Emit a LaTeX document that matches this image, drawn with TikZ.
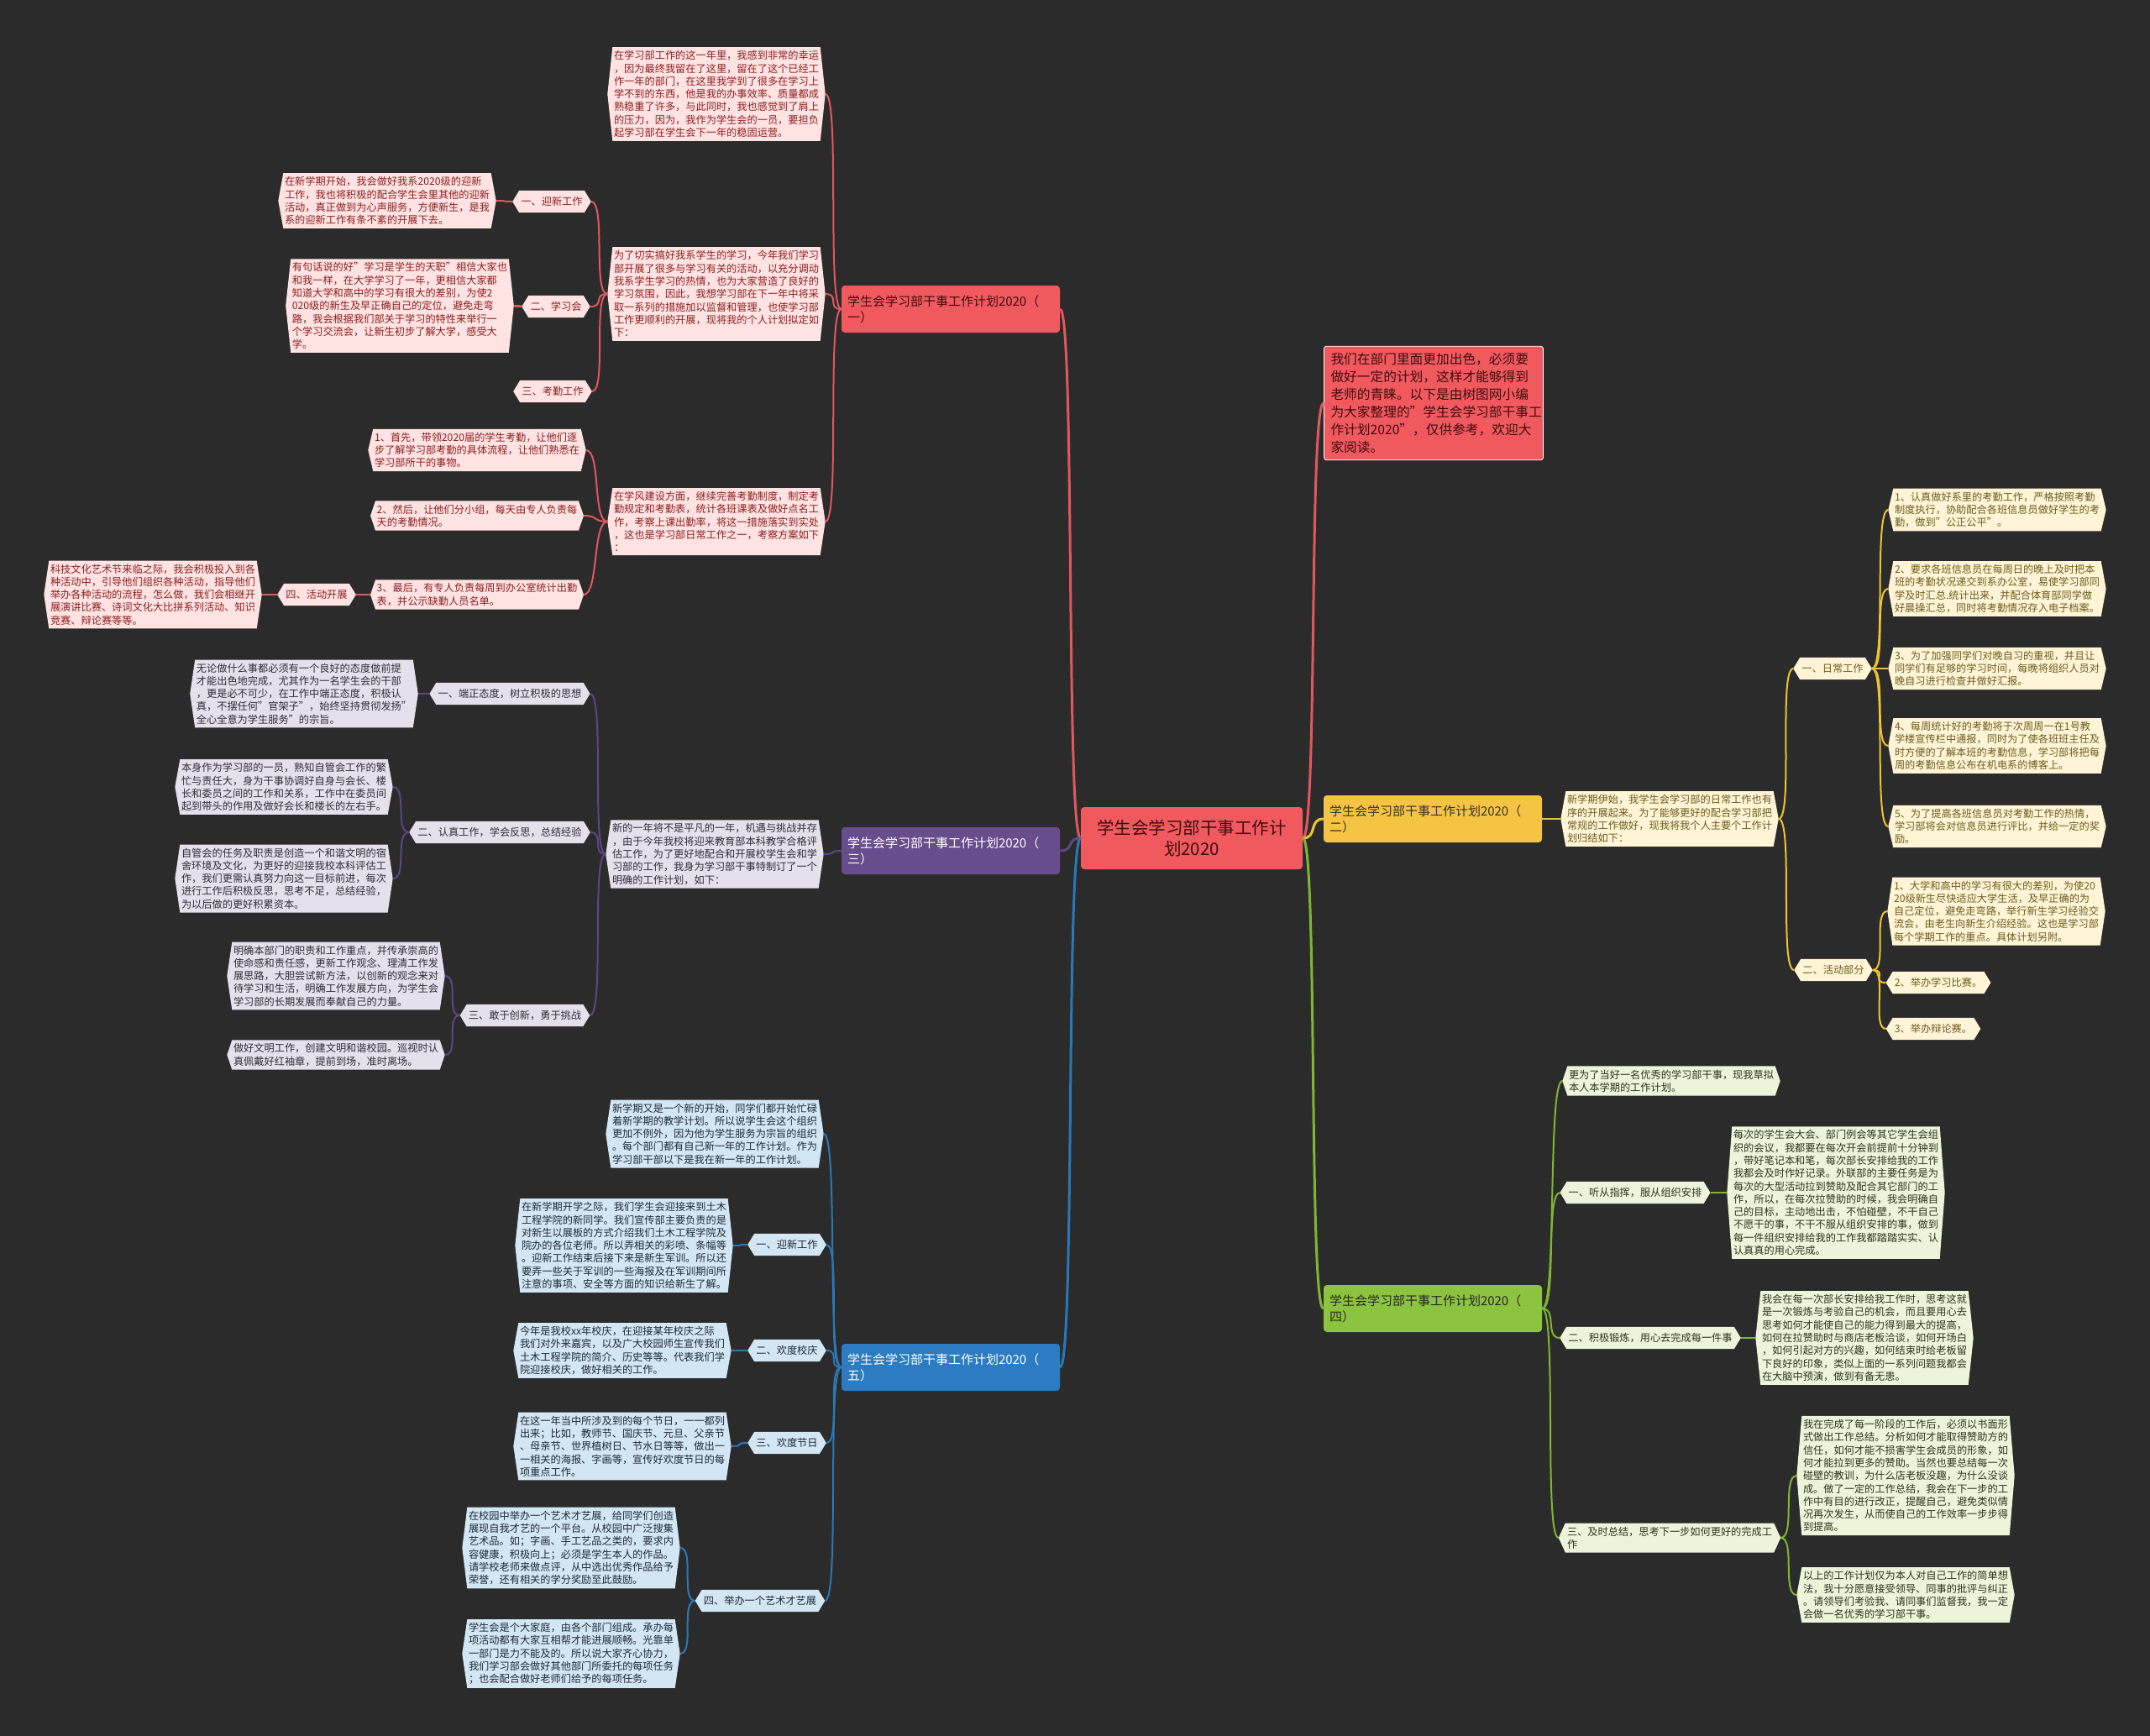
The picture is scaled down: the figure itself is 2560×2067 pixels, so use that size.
\documentclass[tikz,border=0pt]{standalone}
\usepackage{fontspec}
\setmainfont{Noto Sans CJK SC}
\usetikzlibrary{positioning}

\definecolor{bgdark}{HTML}{2B2B2B}
\definecolor{redmain}{HTML}{F05A5F}
\definecolor{redleaf}{HTML}{FFE3E3}
\definecolor{redink}{HTML}{8A1E1E}
\definecolor{redline}{HTML}{E0585C}
\definecolor{redtext}{HTML}{3E0B0D}
\definecolor{purmain}{HTML}{684D8D}
\definecolor{purleaf}{HTML}{E4E0EC}
\definecolor{purink}{HTML}{2E2E38}
\definecolor{purline}{HTML}{5B4785}
\definecolor{blumain}{HTML}{2B7CC0}
\definecolor{bluleaf}{HTML}{D3E6F4}
\definecolor{bluink}{HTML}{1E2A36}
\definecolor{bluline}{HTML}{2A78B8}
\definecolor{yelmain}{HTML}{F6C443}
\definecolor{yelleaf}{HTML}{FFF5D6}
\definecolor{yelink}{HTML}{6C5A1E}
\definecolor{yelline}{HTML}{EEC232}
\definecolor{grnmain}{HTML}{8DC43F}
\definecolor{grnleaf}{HTML}{EEF4DA}
\definecolor{grnink}{HTML}{2E3320}
\definecolor{grnline}{HTML}{7FB534}

% 两侧带尖角的框
\makeatletter
\pgfkeys{/pgf/hexdepth/.initial=6pt}
\pgfdeclareshape{hexbox}{
  \inheritsavedanchors[from=rectangle]
  \inheritanchorborder[from=rectangle]
  \inheritanchor[from=rectangle]{center}
  \inheritanchor[from=rectangle]{north}
  \inheritanchor[from=rectangle]{south}
  \savedmacro\hexd{\edef\hexd{\pgfkeysvalueof{/pgf/hexdepth}}}
  \anchor{east}{%
    \southwest \pgf@ya=\pgf@y
    \northeast \pgf@y=.5\pgf@y \advance\pgf@y by .5\pgf@ya
    \advance\pgf@x by \hexd}
  \anchor{west}{%
    \northeast \pgf@ya=\pgf@y
    \southwest \pgf@y=.5\pgf@y \advance\pgf@y by .5\pgf@ya
    \advance\pgf@x by -\hexd}
  \backgroundpath{%
    \southwest \edef\hx@l{\the\pgf@x}\edef\hy@b{\the\pgf@y}%
    \northeast \edef\hx@r{\the\pgf@x}\edef\hy@t{\the\pgf@y}%
    \pgfmathsetmacro\hy@m{(\hy@b+\hy@t)/2}%
    \pgfpathmoveto{\pgfpoint{\hx@l}{\hy@b}}%
    \pgfpathlineto{\pgfpoint{\hx@r}{\hy@b}}%
    \pgfpathlineto{\pgfpoint{\hx@r+\hexd}{\hy@m}}%
    \pgfpathlineto{\pgfpoint{\hx@r}{\hy@t}}%
    \pgfpathlineto{\pgfpoint{\hx@l}{\hy@t}}%
    \pgfpathlineto{\pgfpoint{\hx@l-\hexd}{\hy@m}}%
    \pgfpathclose}
}
\makeatother

\tikzset{
  leaf/.style={shape=hexbox, /pgf/hexdepth=6pt, inner xsep=1.5pt, inner ysep=4pt,
    align=left, font=\fontsize{12.2}{15.3}\selectfont},
  tag/.style={leaf, /pgf/hexdepth=8pt, inner xsep=2pt, minimum height=26pt},
  rleaf/.style={leaf, fill=redleaf, text=redink},
  rtag/.style={tag, fill=redleaf, text=redink},
  pleaf/.style={leaf, fill=purleaf, text=purink},
  ptag/.style={tag, fill=purleaf, text=purink},
  bleaf/.style={leaf, fill=bluleaf, text=bluink},
  btag/.style={tag, fill=bluleaf, text=bluink},
  yleaf/.style={leaf, fill=yelleaf, text=yelink},
  ytag/.style={tag, fill=yelleaf, text=yelink},
  gleaf/.style={leaf, fill=grnleaf, text=grnink},
  gtag/.style={tag, fill=grnleaf, text=grnink},
  branch/.style={rectangle, rounded corners=4pt, minimum width=260pt, minimum height=56pt,
    text width=246pt, align=left, font=\fontsize{15}{19}\selectfont},
  lt/.style={to path={.. controls +(-18,0) and +(18,0) .. (\tikztotarget)}},
  rt/.style={to path={.. controls +(18,0) and +(-18,0) .. (\tikztotarget)}},
  redln/.style={draw=redline, line width=2pt},
  purln/.style={draw=purline, line width=2pt},
  bluln/.style={draw=bluline, line width=2pt},
  yelln/.style={draw=yelline, line width=2pt},
  grnln/.style={draw=grnline, line width=2pt},
}

\begin{document}
\begin{tikzpicture}[x=1pt, y=-1pt]
    \fill[bgdark] (0,0) rectangle (2560,2067);
    \useasboundingbox (0,0) rectangle (2560,2067);

    % --- 中心 ---
    \node[rectangle, rounded corners=4pt, fill=redmain, text=redtext, align=center,
          minimum width=264pt, minimum height=74pt, font=\fontsize{20.5}{25}\selectfont]
          (root) at (1419,998) {学生会学习部干事工作计\\划2020};

    \node[rectangle, rounded corners=3pt, fill=redmain, draw=white!75, line width=0.8pt,
          text=redtext, text width=245pt, align=left, inner sep=8pt,
          font=\fontsize{15.7}{21}\selectfont] (intro) at (1707,480)
        {我们在部门里面更加出色，必须要\\做好一定的计划，这样才能够得到\\老师的青睐。以下是由树图网小编\\为大家整理的"学生会学习部干事工\\作计划2020"，仅供参考，欢迎大\\家阅读。};

    % --- 五个分支 ---
    \node[branch, fill=redmain, text=redtext] (br1) at (1132,368) {学生会学习部干事工作计划2020（\\一）};
    \node[branch, fill=purmain, text=white!92] (br3) at (1132,1013) {学生会学习部干事工作计划2020（\\三）};
    \node[branch, fill=blumain, text=white] (br5) at (1132,1628) {学生会学习部干事工作计划2020（\\五）};
    \node[branch, fill=yelmain, text=black!80] (br2) at (1706,975) {学生会学习部干事工作计划2020（\\二）};
    \node[branch, fill=grnmain, text=black!85] (br4) at (1706,1558) {学生会学习部干事工作计划2020（\\四）};

    % --- (一) ---
    \node[rleaf] (r1) at (853,112) {在学习部工作的这一年里，我感到非常的幸运\\，因为最终我留在了这里，留在了这个已经工\\作一年的部门，在这里我学到了很多在学习上\\学不到的东西，他是我的办事效率、质量都成\\熟稳重了许多，与此同时，我也感觉到了肩上\\的压力，因为，我作为学生会的一员，要担负\\起学习部在学生会下一年的稳固运营。};
    \node[rleaf] (r2) at (853,350) {为了切实搞好我系学生的学习，今年我们学习\\部开展了很多与学习有关的活动，以充分调动\\我系学生学习的热情，也为大家营造了良好的\\学习氛围，因此，我想学习部在下一年中将采\\取一系列的措施加以监督和管理，也使学习部\\工作更顺利的开展，现将我的个人计划拟定如\\下：};
    \node[rleaf] (r3) at (853,621) {在学风建设方面，继续完善考勤制度，制定考\\勤规定和考勤表，统计各班课表及做好点名工\\作，考察上课出勤率，将这一措施落实到实处\\，这也是学习部日常工作之一，考察方案如下\\：};
    \node[rtag] (r2a) at (657,240) {一、迎新工作};
    \node[rtag] (r2b) at (662,365) {二、学习会};
    \node[rtag] (r2c) at (658,466) {三、考勤工作};
    \node[rleaf] (r2at) at (461,239) {在新学期开始，我会做好我系2020级的迎新\\工作，我也将积极的配合学生会里其他的迎新\\活动，真正做到为心声服务，方便新生，是我\\系的迎新工作有条不紊的开展下去。};
    \node[rleaf] (r2bt) at (476,364) {有句话说的好"学习是学生的天职"相信大家也\\和我一样，在大学学习了一年，更相信大家都\\知道大学和高中的学习有很大的差别，为使2\\020级的新生及早正确自己的定位，避免走弯\\路，我会根据我们部关于学习的特性来举行一\\个学习交流会，让新生初步了解大学，感受大\\学。};
    \node[rleaf] (r3a) at (568,536) {1、首先，带领2020届的学生考勤，让他们逐\\步了解学习部考勤的具体流程，让他们熟悉在\\学习部所干的事物。};
    \node[rleaf] (r3b) at (568,614) {2、然后，让他们分小组，每天由专人负责每\\天的考勤情况。};
    \node[rleaf] (r3c) at (568,708) {3、最后，有专人负责每周到办公室统计出勤\\表，并公示缺勤人员名单。};
    \node[rtag] (r3ca) at (377,708) {四、活动开展};
    \node[rleaf] (r3cat) at (182,708) {科技文化艺术节来临之际，我会积极投入到各\\种活动中，引导他们组织各种活动，指导他们\\举办各种活动的流程，怎么做，我们会相继开\\展演讲比赛、诗词文化大比拼系列活动、知识\\竞赛、辩论赛等等。};

    % --- (三) ---
    \node[pleaf] (p0) at (851,1017) {新的一年将不是平凡的一年，机遇与挑战并存\\，由于今年我校将迎来教育部本科教学合格评\\估工作，为了更好地配合和开展校学生会和学\\习部的工作，我身为学习部干事特制订了一个\\明确的工作计划，如下：};
    \node[ptag] (p1) at (607,826) {一、端正态度，树立积极的思想};
    \node[ptag] (p2) at (595,991) {二、认真工作，学会反思，总结经验};
    \node[ptag] (p3) at (625,1209) {三、敢于创新，勇于挑战};
    \node[pleaf] (p1t) at (362,826) {无论做什么事都必须有一个良好的态度做前提\\才能出色地完成，尤其作为一名学生会的干部\\，更是必不可少，在工作中端正态度，积极认\\真，不摆任何"官架子"，始终坚持贯彻发扬"\\全心全意为学生服务"的宗旨。};
    \node[pleaf] (p2t1) at (338,937) {本身作为学习部的一员，熟知自管会工作的繁\\忙与责任大，身为干事协调好自身与会长、楼\\长和委员之间的工作和关系，工作中在委员间\\起到带头的作用及做好会长和楼长的左右手。};
    \node[pleaf] (p2t2) at (338,1046) {自管会的任务及职责是创造一个和谐文明的宿\\舍环境及文化，为更好的迎接我校本科评估工\\作，我们更需认真努力向这一目标前进，每次\\进行工作后积极反思，思考不足，总结经验，\\为以后做的更好积累资本。};
    \node[pleaf] (p3t1) at (400,1162) {明确本部门的职责和工作重点，并传承崇高的\\使命感和责任感，更新工作观念、理清工作发\\展思路，大胆尝试新方法，以创新的观念来对\\待学习和生活，明确工作发展方向，为学生会\\学习部的长期发展而奉献自己的力量。};
    \node[pleaf] (p3t2) at (400,1256) {做好文明工作，创建文明和谐校园。巡视时认\\真佩戴好红袖章，提前到场，准时离场。};

    % --- (五) ---
    \node[bleaf] (b0) at (851,1350) {新学期又是一个新的开始，同学们都开始忙碌\\着新学期的教学计划。所以说学生会这个组织\\更加不例外，因为他为学生服务为宗旨的组织\\。每个部门都有自己新一年的工作计划。作为\\学习部干部以下是我在新一年的工作计划。};
    \node[btag] (b1) at (937,1482) {一、迎新工作};
    \node[btag] (b2) at (937,1608) {二、欢度校庆};
    \node[btag] (b3) at (937,1718) {三、欢度节日};
    \node[btag] (b4) at (905,1906) {四、举办一个艺术才艺展};
    \node[bleaf] (b1t) at (743,1483) {在新学期开学之际，我们学生会迎接来到土木\\工程学院的新同学。我们宣传部主要负责的是\\对新生以展板的方式介绍我们土木工程学院及\\院办的各位老师。所以弄相关的彩喷、条幅等\\。迎新工作结束后接下来是新生军训。所以还\\要弄一些关于军训的一些海报及在军训期间所\\注意的事项、安全等方面的知识给新生了解。};
    \node[bleaf] (b2t) at (741,1608) {今年是我校xx年校庆，在迎接某年校庆之际\\我们对外来嘉宾，以及广大校园师生宣传我们\\土木工程学院的简介、历史等等。代表我们学\\院迎接校庆，做好相关的工作。};
    \node[bleaf] (b3t) at (741,1722) {在这一年当中所涉及到的每个节日，一一都列\\出来；比如，教师节、国庆节、元旦、父亲节\\、母亲节、世界植树日、节水日等等，做出一\\一相关的海报、字画等，宣传好欢度节日的每\\项重点工作。};
    \node[bleaf] (b4t1) at (680,1843) {在校园中举办一个艺术才艺展，给同学们创造\\展现自我才艺的一个平台。从校园中广泛搜集\\艺术品。如；字画、手工艺品之类的，要求内\\容健康，积极向上；必须是学生本人的作品。\\请学校老师来做点评，从中选出优秀作品给予\\荣誉，还有相关的学分奖励至此鼓励。};
    \node[bleaf] (b4t2) at (680,1969) {学生会是个大家庭，由各个部门组成。承办每\\项活动都有大家互相帮才能进展顺畅。光靠单\\一部门是力不能及的。所以说大家齐心协力，\\我们学习部会做好其他部门所委托的每项任务\\；也会配合做好老师们给予的每项任务。};

    % --- (二) ---
    \node[yleaf] (y0) at (1988,975) {新学期伊始，我学生会学习部的日常工作也有\\序的开展起来。为了能够更好的配合学习部把\\常规的工作做好，现我将我个人主要个工作计\\划归结如下：};
    \node[ytag] (y1) at (2182,796) {一、日常工作};
    \node[ytag] (y2) at (2183,1155) {二、活动部分};
    \node[yleaf] (y1a) at (2378,607) {1、认真做好系里的考勤工作，严格按照考勤\\制度执行，协助配合各班信息员做好学生的考\\勤，做到"公正公平"。};
    \node[yleaf] (y1b) at (2378,701) {2、要求各班信息员在每周日的晚上及时把本\\班的考勤状况递交到系办公室，易使学习部同\\学及时汇总.统计出来，并配合体育部同学做\\好晨操汇总，同时将考勤情况存入电子档案。};
    \node[yleaf] (y1c) at (2378,796) {3、为了加强同学们对晚自习的重视，并且让\\同学们有足够的学习时间，每晚将组织人员对\\晚自习进行检查并做好汇报。};
    \node[yleaf] (y1d) at (2378,888) {4、每周统计好的考勤将于次周周一在1号教\\学楼宣传栏中通报，同时为了使各班班主任及\\时方便的了解本班的考勤信息，学习部将把每\\周的考勤信息公布在机电系的博客上。};
    \node[yleaf] (y1e) at (2378,984) {5、为了提高各班信息员对考勤工作的热情，\\学习部将会对信息员进行评比，并给一定的奖\\励。};
    \node[yleaf] (y2a) at (2377,1085) {1、大学和高中的学习有很大的差别，为使20\\20级新生尽快适应大学生活，及早正确的为\\自己定位，避免走弯路，举行新生学习经验交\\流会，由老生向新生介绍经验。这也是学习部\\每个学期工作的重点。具体计划另附。};
    \node[ytag] (y2b) at (2308,1170) {2、举办学习比赛。};
    \node[ytag] (y2c) at (2302,1225) {3、举办辩论赛。};

    % --- (四) ---
    \node[gleaf] (g0) at (1990,1287) {更为了当好一名优秀的学习部干事，现我草拟\\本人本学期的工作计划。};
    \node[gtag] (g1) at (1947,1420) {一、听从指挥，服从组织安排};
    \node[gtag] (g2) at (1965,1593) {二、积极锻炼，用心去完成每一件事};
    \node[gtag, align=left] (g3) at (1988,1831) {三、及时总结，思考下一步如何更好的完成工\\作};
    \node[gleaf] (g1t) at (2186,1420) {每次的学生会大会、部门例会等其它学生会组\\织的会议，我都要在每次开会前提前十分钟到\\，带好笔记本和笔，每次部长安排给我的工作\\我都会及时作好记录。外联部的主要任务是为\\每次的大型活动拉到赞助及配合其它部门的工\\作，所以，在每次拉赞助的时候，我会明确自\\己的目标，主动地出击，不怕碰壁，不干自己\\不愿干的事，不干不服从组织安排的事，做到\\每一件组织安排给我的工作我都踏踏实实、认\\认真真的用心完成。};
    \node[gleaf] (g2t) at (2220,1593) {我会在每一次部长安排给我工作时，思考这就\\是一次锻炼与考验自己的机会，而且要用心去\\思考如何才能使自己的能力得到最大的提高，\\如何在拉赞助时与商店老板洽谈，如何开场白\\，如何引起对方的兴趣，如何结束时给老板留\\下良好的印象，类似上面的一系列问题我都会\\在大脑中预演，做到有备无患。};
    \node[gleaf] (g3t1) at (2269,1757) {我在完成了每一阶段的工作后，必须以书面形\\式做出工作总结。分析如何才能取得赞助方的\\信任，如何才能不损害学生会成员的形象，如\\何才能拉到更多的赞助。当然也要总结每一次\\碰壁的教训，为什么店老板没趣，为什么没谈\\成。做了一定的工作总结，我会在下一步的工\\作中有目的进行改正，提醒自己，避免类似情\\况再次发生，从而使自己的工作效率一步步得\\到提高。};
    \node[gleaf] (g3t2) at (2269,1899) {以上的工作计划仅为本人对自己工作的简单想\\法，我十分愿意接受领导、同事的批评与纠正\\。请领导们考验我、请同事们监督我，我一定\\会做一名优秀的学习部干事。};

    % 连线: 中心到分支
    \draw[redln, line width=3pt, lt] (root.west) to (br1.east);
    \draw[purln, line width=3pt, lt] (root.west) to (br3.east);
    \draw[bluln, line width=3pt, lt] (root.west) to (br5.east);
    \draw[redln, line width=3pt, rt] (root.east) to (intro.west);
    \draw[yelln, line width=3pt, rt] (root.east) to (br2.west);
    \draw[grnln, line width=3pt, rt] (root.east) to (br4.west);

    % 连线: (一)
    \foreach \c in {r1,r2,r3} \draw[redln, lt] (br1.west) to (\c.east);
    \foreach \c in {r2a,r2b,r2c} \draw[redln, lt] (r2.west) to (\c.east);
    \draw[redln, lt] (r2a.west) to (r2at.east);
    \draw[redln, lt] (r2b.west) to (r2bt.east);
    \foreach \c in {r3a,r3b,r3c} \draw[redln, lt] (r3.west) to (\c.east);
    \draw[redln, lt] (r3c.west) to (r3ca.east);
    \draw[redln, lt] (r3ca.west) to (r3cat.east);

    % 连线: (三)
    \draw[purln, lt] (br3.west) to (p0.east);
    \foreach \c in {p1,p2,p3} \draw[purln, lt] (p0.west) to (\c.east);
    \draw[purln, lt] (p1.west) to (p1t.east);
    \foreach \c in {p2t1,p2t2} \draw[purln, lt] (p2.west) to (\c.east);
    \foreach \c in {p3t1,p3t2} \draw[purln, lt] (p3.west) to (\c.east);

    % 连线: (五)
    \foreach \c in {b0,b1,b2,b3,b4} \draw[bluln, lt] (br5.west) to (\c.east);
    \draw[bluln, lt] (b1.west) to (b1t.east);
    \draw[bluln, lt] (b2.west) to (b2t.east);
    \draw[bluln, lt] (b3.west) to (b3t.east);
    \foreach \c in {b4t1,b4t2} \draw[bluln, lt] (b4.west) to (\c.east);

    % 连线: (二)
    \draw[yelln, rt] (br2.east) to (y0.west);
    \foreach \c in {y1,y2} \draw[yelln, rt] (y0.east) to (\c.west);
    \foreach \c in {y1a,y1b,y1c,y1d,y1e} \draw[yelln, rt] (y1.east) to (\c.west);
    \foreach \c in {y2a,y2b,y2c} \draw[yelln, rt] (y2.east) to (\c.west);

    % 连线: (四)
    \foreach \c in {g0,g1,g2,g3} \draw[grnln, rt] (br4.east) to (\c.west);
    \draw[grnln, rt] (g1.east) to (g1t.west);
    \draw[grnln, rt] (g2.east) to (g2t.west);
    \foreach \c in {g3t1,g3t2} \draw[grnln, rt] (g3.east) to (\c.west);

\end{tikzpicture}
\end{document}
